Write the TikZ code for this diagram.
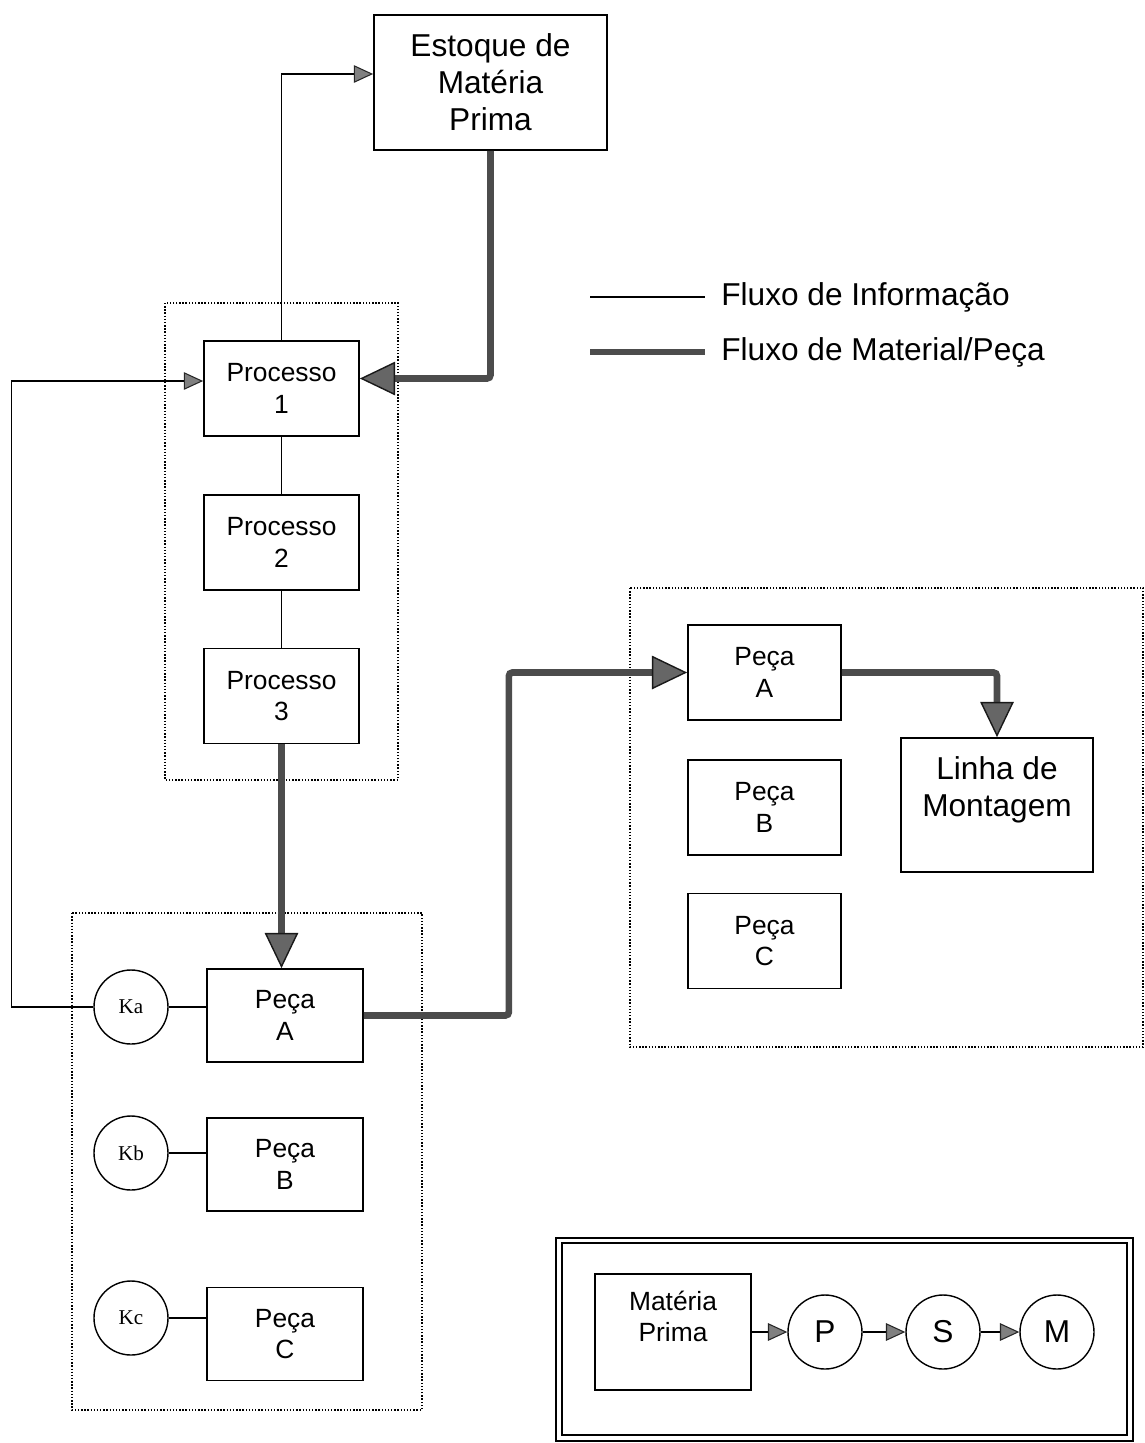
\documentclass[tikz,border=0pt]{standalone}
\usepackage{fontspec}
\setmainfont{Liberation Sans}
\newfontfamily\kanbanfont{Liberation Serif}
\usetikzlibrary{arrows.meta, positioning}
\tikzset{
	box/.style={
		rectangle,
		draw=black,
		line width=1pt,
		minimum width=3.1cm,
		minimum height=1.9cm,
		align=center,
		font=\fontsize{15}{18}\selectfont
	},
	bigbox/.style={
		rectangle,
		draw=black,
		line width=1pt,
		align=center,
		font=\fontsize{18}{21}\selectfont
	},
	kanban/.style={
		circle,
		draw=black,
		line width=0.8pt,
		minimum size=1.48cm,
		inner sep=0pt,
		font=\kanbanfont\fontsize{12}{14}\selectfont
	},
	stage/.style={
		circle,
		draw=black,
		line width=0.8pt,
		minimum size=1.48cm,
		inner sep=0pt,
		font=\fontsize{18}{21}\selectfont
	},
	legend/.style={
		inner sep=0pt,
		font=\fontsize{18}{21}\selectfont
	},
	info/.style={
		-{Triangle[length=11pt, width=10pt, color=black!85, fill=black!50, line width=0.6pt]},
		line width=0.8pt
	},
	link/.style={
		line width=0.8pt
	},
	material/.style={
		-{Triangle[length=20pt, width=19pt, color=black!90, fill=black!60, line width=0.8pt]},
		line width=3.8pt,
		draw=black!70,
		rounded corners=2pt
	},
	group/.style={
		densely dotted,
		line width=0.8pt
	}
}

\begin{document}
\begin{tikzpicture}
		\useasboundingbox (0,0) rectangle (22.9,-28.86);
		
		% nodes
		\node (estoque) [bigbox, minimum width=4.66cm, minimum height=2.7cm] at (9.81,-1.65) {Estoque de\\Matéria\\Prima};
		\node (proc1)   [box] at (5.63,-7.77)                {Processo\\1};
		\node (proc2)   [box, below=1.14cm of proc1]        {Processo\\2};
		\node (proc3)   [box, below=1.14cm of proc2]        {Processo\\3};
		
		\node (pecaA)   [box, minimum width=3.12cm, minimum height=1.86cm] at (5.7,-20.31) {Peça\\A};
		\node (pecaB)   [box, minimum width=3.12cm, minimum height=1.86cm, below=1.08cm of pecaA] {Peça\\B};
		\node (pecaC)   [box, minimum width=3.12cm, minimum height=1.86cm, below=1.5cm of pecaB]  {Peça\\C};
		\node (ka)      [kanban] at (2.62,-20.14) {Ka};
		\node (kb)      [kanban] at (2.62,-23.06) {Kb};
		\node (kc)      [kanban] at (2.62,-26.36) {Kc};
		
		\node (pecaA2)  [box, minimum width=3.06cm] at (15.29,-13.45)      {Peça\\A};
		\node (pecaB2)  [box, minimum width=3.06cm, below=0.76cm of pecaA2] {Peça\\B};
		\node (pecaC2)  [box, minimum width=3.06cm, below=0.74cm of pecaB2] {Peça\\C};
		\node (linha)   [bigbox, minimum width=3.84cm, minimum height=2.68cm] at (19.94,-16.1) {Linha de\\Montagem\\~};
		
		% groups
		\draw [group] (3.3,-6.06)   rectangle (7.96,-15.6);
		\draw [group] (1.44,-18.26) rectangle (8.44,-28.2);
		\draw [group] (12.6,-11.76) rectangle (22.86,-20.94);
		
		% information flow
		\draw [info] (proc1.north) |- ([yshift=0.17cm]estoque.west);
		\draw [info] (ka.west) -- ++(-1.64,0) |- ([yshift=0.15cm]proc1.west);
		\draw [link] (proc1) -- (proc2);
		\draw [link] (proc2) -- (proc3);
		\draw [link] (ka.east) -- (ka.east -| pecaA.west);
		\draw [link] (kb.east) -- (kb.east -| pecaB.west);
		\draw [link] (kc.east) -- (kc.east -| pecaC.west);
		
		% material flow
		\draw [material] (estoque.south) |- ([yshift=0.2cm]proc1.east);
		\draw [material] (proc3.south) -- (proc3.south |- pecaA.north);
		\draw [material] (pecaA.east) -- ++(2.9,0) |- (pecaA2.west);
		\draw [material] (pecaA2.east) -| (linha.north);
		
		% legend
		\coordinate (infoA) at (11.8,-5.94);
		\coordinate (infoB) at (14.1,-5.94);
		\coordinate (matA)  at (11.8,-7.04);
		\coordinate (matB)  at (14.1,-7.04);
		\node (legInfo) [legend, right=0.32cm of infoB] {Fluxo de Informação};
		\node (legMat)  [legend, right=0.32cm of matB]  {Fluxo de Material/Peça};
		\draw [link] (infoA) -- (infoB);
		\draw [material, -] (matA) -- (matB);
		
		% sequence frame
		\draw [line width=1.4pt] (11.12,-24.76) rectangle (22.66,-28.82);
		\draw [line width=0.7pt] (11.24,-24.86) rectangle (22.54,-28.7);
		\node (mp) [box, minimum width=3.12cm, minimum height=2.32cm] at (13.46,-26.64) {Matéria\\Prima\\~};
		\node (sp) [stage] at (16.5,-26.64)  {P};
		\node (ss) [stage] at (18.86,-26.64) {S};
		\node (sm) [stage] at (21.14,-26.64) {M};
		\draw [info] (mp) -- (sp);
		\draw [info] (sp) -- (ss);
		\draw [info] (ss) -- (sm);
		
	\end{tikzpicture}
\end{document}
